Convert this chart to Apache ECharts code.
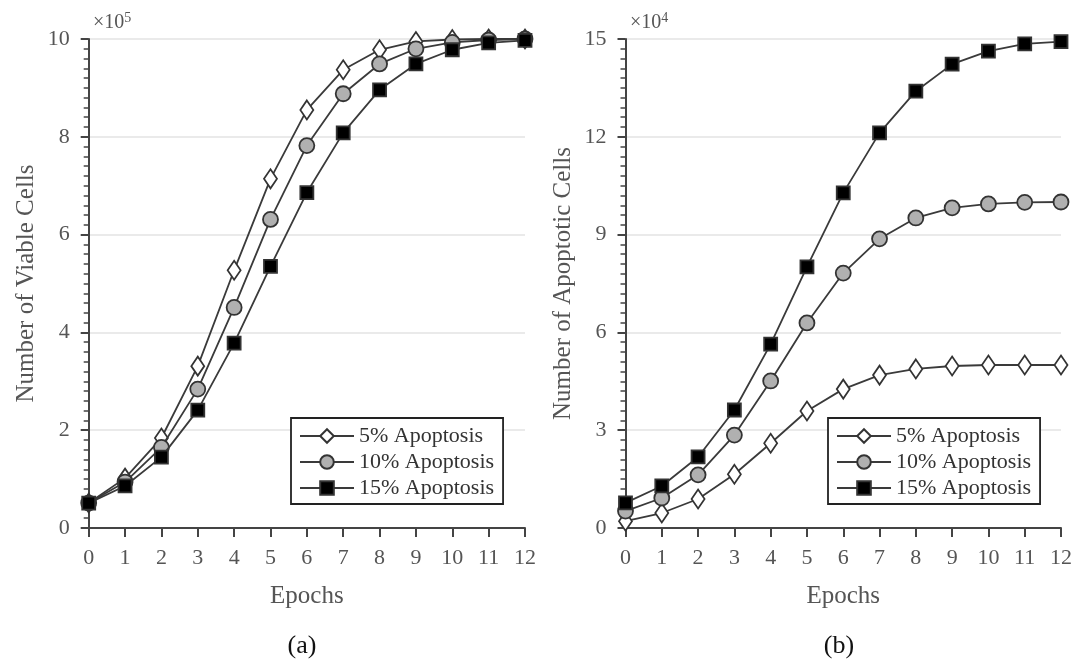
<!DOCTYPE html>
<html>
<head>
<meta charset="utf-8">
<script src="https://cdn.jsdelivr.net/npm/echarts@6/dist/echarts.min.js"></script>
<style>
  html, body { margin: 0; padding: 0; background: #fff; }
  #chart { width: 1075px; height: 660px; }
</style>
</head>
<body>
<div id="chart"></div>
<script>
// epochs on the x axis
var epochs = [0, 1, 2, 3, 4, 5, 6, 7, 8, 9, 10, 11, 12];
var seriesNames = ['5% Apoptosis', '10% Apoptosis', '15% Apoptosis'];

// (a) viable cells, x10^5
var viable5 = [0.51, 1.02, 1.84, 3.31, 5.27, 7.14, 8.55, 9.37, 9.78, 9.95, 9.99, 10.0, 10.0];
var viable10 = [0.51, 0.94, 1.65, 2.84, 4.51, 6.31, 7.82, 8.88, 9.49, 9.8, 9.93, 9.98, 10.0];
var viable15 = [0.51, 0.86, 1.45, 2.41, 3.78, 5.35, 6.86, 8.08, 8.96, 9.49, 9.78, 9.92, 9.97];

// (b) apoptotic cells, x10^4
var apop5 = [0.21, 0.46, 0.89, 1.65, 2.6, 3.59, 4.26, 4.69, 4.88, 4.97, 5.0, 5.0, 5.0];
var apop10 = [0.52, 0.92, 1.63, 2.85, 4.51, 6.29, 7.82, 8.87, 9.51, 9.82, 9.94, 9.99, 10.0];
var apop15 = [0.77, 1.29, 2.18, 3.62, 5.64, 8.01, 10.28, 12.12, 13.4, 14.23, 14.63, 14.85, 14.92];

var font = 'Liberation Serif';
var txtColor = '#555';
var axisColor = '#444';

function pairs(vals) {
    var list = [];
    for (var i = 0; i < epochs.length; i++) {
        list.push([epochs[i], vals[i]]);
    }
    return list;
}

var markerStyles = [
    {symbol: 'diamond', symbolSize: [13, 19], color: '#fff'},
    {symbol: 'circle', symbolSize: 15, color: '#b0b0b0'},
    {symbol: 'rect', symbolSize: 13, color: '#000'}
];

function makeSeries(idx, vals, gridIdx) {
    var m = markerStyles[idx];
    return {
        name: seriesNames[idx],
        type: 'line',
        xAxisIndex: gridIdx,
        yAxisIndex: gridIdx,
        symbol: m.symbol,
        symbolSize: m.symbolSize,
        smooth: false,
        lineStyle: {color: '#3a3a3a', width: 1.8},
        itemStyle: {color: m.color, borderColor: '#333', borderWidth: 1.8},
        data: pairs(vals),
        z: 3 + idx
    };
}

function xAxisDef(gridIdx) {
    return {
        type: 'value',
        gridIndex: gridIdx,
        min: 0,
        max: 12,
        interval: 1,
        name: 'Epochs',
        nameLocation: 'middle',
        nameGap: 56,
        nameTextStyle: {fontFamily: font, fontSize: 25, color: txtColor},
        axisLine: {show: true, lineStyle: {color: axisColor, width: 2}},
        axisTick: {show: true, length: 9, lineStyle: {color: axisColor, width: 2}},
        axisLabel: {fontFamily: font, fontSize: 22, color: txtColor, margin: 19},
        splitLine: {show: false}
    };
}

function yAxisDef(gridIdx, name, max, interval) {
    return {
        type: 'value',
        gridIndex: gridIdx,
        min: 0,
        max: max,
        interval: interval,
        name: name,
        nameLocation: 'middle',
        nameGap: 50,
        nameTextStyle: {fontFamily: font, fontSize: 25, color: txtColor},
        axisLine: {show: true, lineStyle: {color: axisColor, width: 2}},
        axisTick: {show: true, length: 8, lineStyle: {color: axisColor, width: 2}},
        minorTick: {show: true, splitNumber: 10, length: 5, lineStyle: {color: axisColor, width: 1.5}},
        axisLabel: {fontFamily: font, fontSize: 22, color: txtColor, margin: 19},
        splitLine: {show: true, lineStyle: {color: '#e3e3e3', width: 1.5}}
    };
}

function legendDef(left) {
    return {
        data: seriesNames,
        left: left,
        top: 418,
        orient: 'vertical',
        itemGap: 4,
        itemWidth: 54,
        itemHeight: 17,
        padding: [7, 9, 5, 8],
        backgroundColor: '#fff',
        borderColor: '#222',
        borderWidth: 1.8,
        borderRadius: 0,
        selectedMode: false,
        textStyle: {fontFamily: font, fontSize: 22, color: '#333'}
    };
}

var supRich = {
    a: {fontFamily: font, fontSize: 20, color: txtColor},
    b: {fontFamily: font, fontSize: 14, color: txtColor, verticalAlign: 'top', padding: [0, 0, 10, 0]}
};

var chart = echarts.init(document.getElementById('chart'));
chart.setOption({
    animation: false,
    backgroundColor: '#fff',
    title: [
        {text: '{a|×10}{b|5}', left: 88, top: 6, textStyle: {fontWeight: 'normal', rich: supRich}},
        {text: '{a|×10}{b|4}', left: 625, top: 6, textStyle: {fontWeight: 'normal', rich: supRich}},
        {text: '(a)', left: 297, top: 628, textAlign: 'center',
            textStyle: {fontFamily: font, fontSize: 26, fontWeight: 'normal', color: '#111'}},
        {text: '(b)', left: 834, top: 628, textAlign: 'center',
            textStyle: {fontFamily: font, fontSize: 26, fontWeight: 'normal', color: '#111'}}
    ],
    legend: [legendDef(291), legendDef(828)],
    grid: [
        {left: 88.7, top: 39, width: 436.3, height: 489},
        {left: 625.5, top: 39, width: 436.3, height: 489}
    ],
    xAxis: [xAxisDef(0), xAxisDef(1)],
    yAxis: [
        yAxisDef(0, 'Number of Viable Cells', 10, 2),
        yAxisDef(1, 'Number of Apoptotic Cells', 15, 3)
    ],
    series: [
        makeSeries(0, viable5, 0),
        makeSeries(1, viable10, 0),
        makeSeries(2, viable15, 0),
        makeSeries(0, apop5, 1),
        makeSeries(1, apop10, 1),
        makeSeries(2, apop15, 1)
    ]
});
</script>
</body>
</html>
